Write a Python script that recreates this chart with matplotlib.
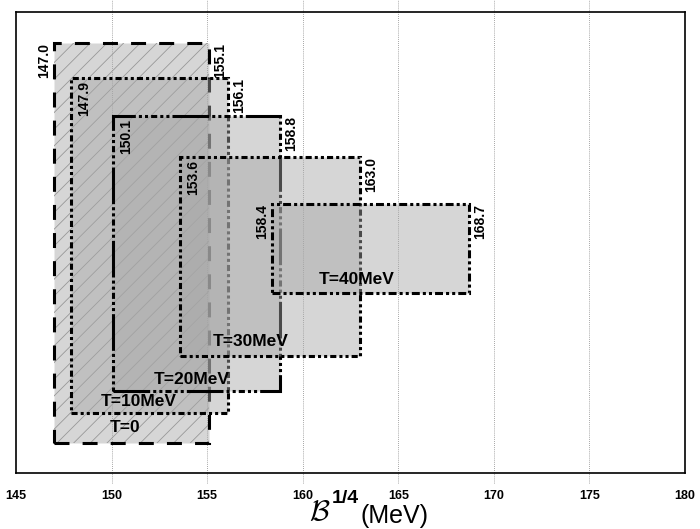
import matplotlib
matplotlib.use('Agg')
import matplotlib.pyplot as plt
from matplotlib.patches import Rectangle

plt.rcParams['font.family'] = ['Liberation Sans', 'DejaVu Sans']
plt.rcParams['hatch.linewidth'] = 0.6

# allowed B^{1/4} window (MeV) for each temperature
temps = ['T=0', 'T=10MeV', 'T=20MeV', 'T=30MeV', 'T=40MeV']
b_low = [147.0, 147.9, 150.1, 153.6, 158.4]
b_high = [155.1, 156.1, 158.8, 163.0, 168.7]
# vertical extent of each band (arbitrary units, no y scale)
y_low = [30, 60, 82, 117, 180]
y_high = [430, 395, 357, 316, 269]
# where the temperature captions go
caption_x = [150.7, 151.4, 154.2, 157.3, 162.8]
caption_y = [45, 72, 93, 131, 193]
xticks = [145, 150, 155, 160, 165, 170, 175, 180]

# edge styles, in units of the line width
edge_styles = [
    (0, (4.9, 4.3)),
    (0, (2, 1, 1, 1, 1, 1)),
    (0, (12, 1, 1, 1, 1, 1, 2, 1, 1, 1, 1, 1)),
    (0, (2, 1, 1, 1, 1, 1)),
    (0, (2.6, 1, 1, 1, 1, 1)),
]
# which low-edge labels sit outside the box
low_outside = [True, False, False, False, True]

fig = plt.figure(figsize=(7, 5.29), dpi=100)
ax = fig.add_axes([16 / 700, 56 / 529, 669 / 700, 461 / 529])
ax.set_xlim(145, 180)
ax.set_ylim(0, 461)

face = (0.65, 0.65, 0.65, 0.45)
for i in range(len(temps)):
    w = b_high[i] - b_low[i]
    h = y_high[i] - y_low[i]
    if i == 0:
        ax.add_patch(Rectangle((b_low[i], y_low[i]), w, h, fill=False,
                               hatch='//', edgecolor='#8c8c8c', lw=0, zorder=1))
    ax.add_patch(Rectangle((b_low[i], y_low[i]), w, h, facecolor=face,
                           edgecolor='black', lw=2.2, linestyle=edge_styles[i],
                           zorder=1))

# edge values, rotated along the box sides
for i in range(len(temps)):
    if low_outside[i]:
        ax.annotate(f'{b_low[i]:.1f}', xy=(b_low[i], y_high[i]), xytext=(-2, 0),
                    textcoords='offset points', rotation=90, ha='right', va='top',
                    fontsize=10, fontweight='bold', zorder=5)
    else:
        ax.annotate(f'{b_low[i]:.1f}', xy=(b_low[i], y_high[i]), xytext=(4, -2),
                    textcoords='offset points', rotation=90, ha='left', va='top',
                    fontsize=10, fontweight='bold', zorder=5)
    ax.annotate(f'{b_high[i]:.1f}', xy=(b_high[i], y_high[i]), xytext=(3, 0),
                textcoords='offset points', rotation=90, ha='left', va='top',
                fontsize=10, fontweight='bold', zorder=5)

for t, cx, cy in zip(temps, caption_x, caption_y):
    ax.text(cx, cy, t, ha='center', va='center', fontsize=12.5,
            fontweight='bold', zorder=5)

# dotted guide lines running past the frame
for x in xticks[1:-1]:
    ax.plot([x, x], [-0.022, 1.03], transform=ax.get_xaxis_transform(),
            ls=(0, (1, 1.5)), lw=0.6, color='#888888', clip_on=False, zorder=0.5)

ax.set_xticks(xticks)
ax.tick_params(axis='x', length=0, pad=12, labelsize=9)
for lab in ax.get_xticklabels():
    lab.set_fontweight('bold')
ax.set_yticks([])
for sp in ax.spines.values():
    sp.set_linewidth(1.2)

# axis title: calligraphic B with a bold 1/4 exponent
fig.text(320 / 700, 1 - 520 / 529, r'$\mathcal{B}$', fontsize=21, ha='center',
         va='baseline', math_fontfamily='cm')
fig.text(332 / 700, 1 - 503 / 529, '1/4', fontsize=14, fontweight='bold',
         ha='left', va='baseline')
fig.text(361 / 700, 1 - 523 / 529, '(MeV)', fontsize=18, ha='left', va='baseline')

fig.savefig('out.png', dpi=100)
